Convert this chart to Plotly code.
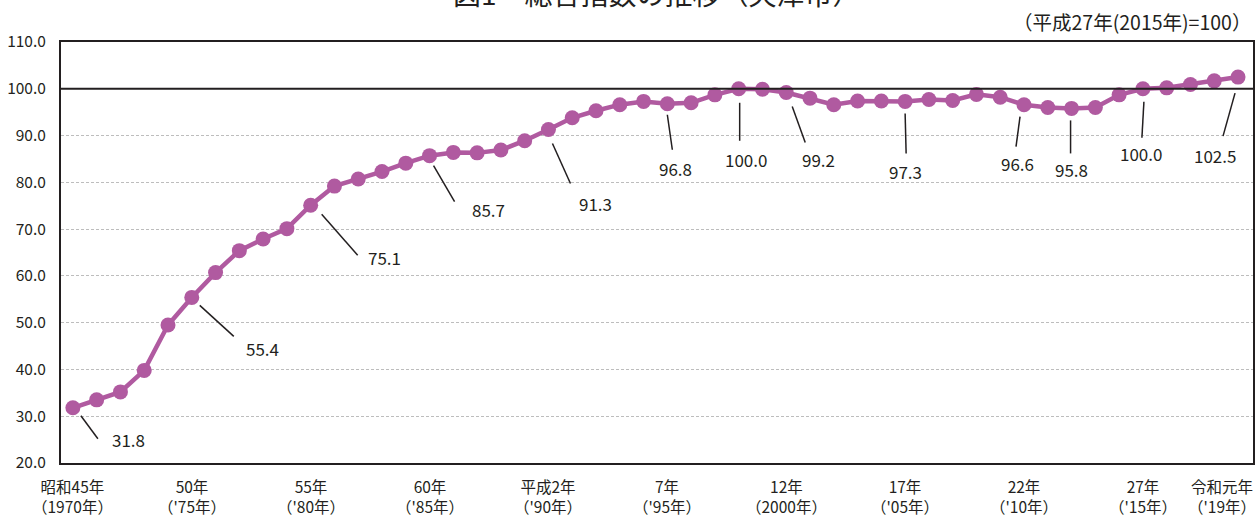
import plotly.graph_objects as go

years = list(range(1970, 2020))
values = [31.8, 33.5, 35.2, 39.8, 49.5, 55.4, 60.7, 65.4, 67.9, 70.1,
          75.1, 79.2, 80.7, 82.3, 84.1, 85.7, 86.4, 86.3, 86.9, 88.9,
          91.3, 93.8, 95.3, 96.6, 97.3, 96.8, 97.0, 98.7, 100.0, 99.9,
          99.2, 98.0, 96.6, 97.4, 97.4, 97.3, 97.7, 97.5, 98.8, 98.2,
          96.6, 96.0, 95.8, 96.0, 98.7, 100.0, 100.2, 100.9, 101.7, 102.5]

tick_years = [1970, 1975, 1980, 1985, 1990, 1995, 2000, 2005, 2010, 2015, 2019]
tick_top = ["昭和45年", "50年", "55年", "60年", "平成2年", "7年", "12年", "17年", "22年", "27年", "令和元年"]
tick_bottom = ["（1970年）", "（'75年）", "（'80年）", "（'85年）", "（'90年）", "（'95年）",
               "（2000年）", "（'05年）", "（'10年）", "（'15年）", "（'19年）"]

labeled_years = [1970, 1975, 1980, 1985, 1990, 1995, 1998, 2000, 2005, 2010, 2012, 2015, 2019]

title_text = "図1　総合指数の推移（天津市）"
base_text = "（平成27年(2015年)=100）"

# leader-line and label offsets in pixels (dx right, dy down) relative to the point
offsets = {
    1970: ((8, 8), (25, 31), (56, 32)),
    1975: ((8, 8), (42, 39), (71, 51)),
    1980: ((11, 9), (47, 50), (74, 52)),
    1985: ((4, 10), (25, 46), (59, 54)),
    1990: ((4, 14), (22, 54), (47, 74)),
    1995: ((0, 11), (5, 46), (8, 65)),
    1998: ((1, 14), (1, 52), (7, 71)),
    2000: ((6, 14), (19, 50), (32, 67)),
    2005: ((0, 12), (1, 52), (0, 70)),
    2010: ((-4, 12), (-8, 42), (-7, 59)),
    2012: ((-1, 12), (-1, 45), (0, 61)),
    2015: ((1, 13), (-1, 49), (-2, 65)),
    2019: ((-3, 16), (-15, 59), (-23, 78)),
}
# horizontal pixel shift of x tick labels (last one is pulled inside the page)
tick_shift = {2019: -16}

FONT = "Noto Sans CJK JP, sans-serif"
INK = "#231F20"
LINE_COLOR = "#B05AA0"

fig = go.Figure()
fig.add_trace(go.Scatter(
    x=years, y=values, mode="lines+markers",
    line=dict(color=LINE_COLOR, width=4.5),
    marker=dict(color=LINE_COLOR, size=15),
    hoverinfo="x+y", showlegend=False,
))

shapes = []
annotations = []
val_of = dict(zip(years, values))
for yr in labeled_years:
    v = val_of[yr]
    (sx, sy), (ex, ey), (tx, ty) = offsets[yr]
    shapes.append(dict(
        type="line", xref="x", yref="y", xsizemode="pixel", ysizemode="pixel",
        xanchor=yr, yanchor=v, x0=sx, y0=-sy, x1=ex, y1=-ey,
        line=dict(color=INK, width=1.5),
    ))
    annotations.append(dict(
        x=yr, y=v, xref="x", yref="y", text=f"{v:.1f}", showarrow=False,
        xshift=tx, yshift=-ty, xanchor="center", yanchor="middle",
        font=dict(family=FONT, size=17, color=INK),
    ))

# 100 reference line
shapes.append(dict(type="line", xref="paper", yref="y", x0=0, x1=1, y0=100, y1=100,
                   line=dict(color=INK, width=2)))

# x tick labels (two lines each)
for yr, a, b in zip(tick_years, tick_top, tick_bottom):
    annotations.append(dict(
        x=yr, y=0, xref="x", yref="paper", text=f"{a}<br>{b}", showarrow=False,
        xanchor="center", yanchor="top", yshift=-10, xshift=tick_shift.get(yr, 0),
        align="center",
        font=dict(family=FONT, size=15.5, color=INK),
    ))

annotations.append(dict(
    x=0.5, y=1.116, xref="paper", yref="paper", text=title_text, showarrow=False,
    xanchor="center", yanchor="middle",
    font=dict(family=FONT, size=28, color=INK),
))
annotations.append(dict(
    x=1.0, y=1.048, xref="paper", yref="paper", text=base_text, showarrow=False,
    xanchor="right", yanchor="middle",
    font=dict(family=FONT, size=19.5, color=INK),
))

fig.update_layout(
    width=1259, height=518,
    margin=dict(l=61, r=6, t=42, b=55, autoexpand=False),
    paper_bgcolor="white", plot_bgcolor="white",
    shapes=shapes, annotations=annotations,
    xaxis=dict(
        range=[1969.5, 2019.63], tickvals=tick_years, showticklabels=False,
        showgrid=False, zeroline=False, showline=True, mirror=True,
        linecolor=INK, linewidth=2, ticks="", automargin=False,
    ),
    yaxis=dict(
        range=[20, 110], dtick=10, tick0=20, tickformat=".1f",
        showgrid=True, gridcolor="#BDBDBD", griddash="3px,2px", gridwidth=1,
        zeroline=False, showline=True, mirror=True,
        linecolor=INK, linewidth=2, ticks="", automargin=False,
        ticklabelstandoff=10,
        tickfont=dict(family=FONT, size=15.5, color=INK),
    ),
)

fig.write_html(
    "out.html",
    config={"displayModeBar": False},
    post_script="document.body.style.margin='0';document.body.style.overflow='hidden';",
)
